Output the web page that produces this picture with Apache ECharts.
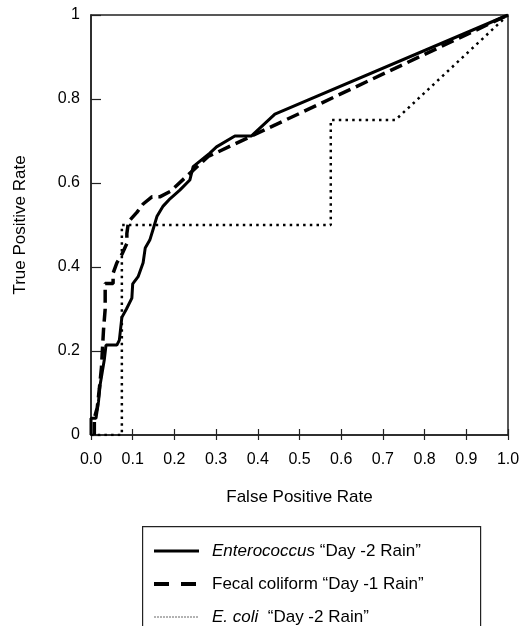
<!DOCTYPE html>
<html>
<head>
<meta charset="utf-8">
<script src="https://cdn.jsdelivr.net/npm/echarts@6/dist/echarts.min.js"></script>
<style>
html,body{margin:0;padding:0;background:#fff;}
#chart{width:524px;height:626px;}
</style>
</head>
<body>
<div id="chart"></div>
<script>
// ---- data (False Positive Rate, True Positive Rate) ----
var xTicks = ['0.0','0.1','0.2','0.3','0.4','0.5','0.6','0.7','0.8','0.9','1.0'];
var yTicks = ['0','0.2','0.4','0.6','0.8','1'];
var seriesNames = ['Enterococcus \u201cDay -2 Rain\u201d', 'Fecal coliform \u201cDay -1 Rain\u201d', 'E. coli  \u201cDay -2 Rain\u201d'];

var enterococcus = [
  [0,0],[0,0.04],[0.012,0.04],[0.018,0.08],[0.022,0.12],[0.027,0.15],[0.032,0.18],[0.036,0.214],
  [0.062,0.214],[0.068,0.226],[0.074,0.28],[0.085,0.30],[0.098,0.326],[0.10,0.36],[0.113,0.377],
  [0.125,0.41],[0.13,0.445],[0.141,0.464],[0.149,0.49],[0.158,0.52],[0.173,0.545],[0.19,0.563],
  [0.213,0.583],[0.237,0.607],[0.245,0.639],[0.285,0.671],[0.301,0.686],[0.345,0.712],
  [0.385,0.712],[0.441,0.764],[1,1]
];
var fecalColiform = [
  [0.008,0],[0.008,0.04],[0.015,0.065],[0.02,0.11],[0.025,0.16],[0.03,0.25],[0.034,0.30],
  [0.034,0.361],[0.053,0.361],[0.053,0.385],[0.062,0.41],[0.074,0.43],[0.086,0.456],[0.086,0.48],
  [0.09,0.508],[0.11,0.53],[0.125,0.55],[0.146,0.567],[0.165,0.567],[0.19,0.58],[0.237,0.623],
  [0.281,0.663],[1,1]
];
var eColi = [
  [0,0],[0.074,0],[0.074,0.5],[0.575,0.5],[0.575,0.75],[0.73,0.75],[1,1]
];

// ---- chart ----
var FONT = '"Liberation Sans", Arial, sans-serif';
var chart = echarts.init(document.getElementById('chart'), null, {renderer:'canvas'});
var hiddenSymbol = {opacity: 0, color: 'transparent', borderWidth: 0};
var option = {
  backgroundColor: '#fff',
  animation: false,
  textStyle: {fontFamily: FONT, color: '#000'},
  grid: {left: 91, right: 16, top: 15, bottom: 191, show: true, borderColor: '#222', borderWidth: 1.5, backgroundColor: 'transparent'},
  xAxis: [{
    type: 'value', min: 0, max: 1, interval: 0.1, position: 'bottom',
    name: 'False Positive Rate', nameLocation: 'middle', nameGap: 54,
    nameTextStyle: {fontSize: 17, fontFamily: FONT, color: '#000'},
    axisLine: {show: true, lineStyle: {color: '#222', width: 1.5}},
    axisTick: {show: true, inside: false, length: 5, lineStyle: {color: '#222', width: 1.2}},
    axisLabel: {fontSize: 16, fontFamily: FONT, color: '#000', margin: 17,
      formatter: function (v) { return xTicks[Math.round(v * 10)]; }},
    splitLine: {show: false}
  }, {
    type: 'value', min: 0, max: 1, interval: 0.1, position: 'bottom', offset: 0,
    axisLine: {show: false},
    axisTick: {show: true, inside: true, length: 6, lineStyle: {color: '#222', width: 1.2}},
    axisLabel: {show: false},
    splitLine: {show: false}
  }],
  yAxis: {
    type: 'value', min: 0, max: 1, interval: 0.2,
    name: 'True Positive Rate', nameLocation: 'middle', nameGap: 62, nameRotate: 90,
    nameTextStyle: {fontSize: 17, fontFamily: FONT, color: '#000'},
    axisLine: {show: true, lineStyle: {color: '#222', width: 1.5}},
    axisTick: {show: true, inside: true, length: 10, lineStyle: {color: '#222', width: 1.2}},
    axisLabel: {fontSize: 16, fontFamily: FONT, color: '#000', margin: 11,
      formatter: function (v) { return yTicks[Math.round(v * 5)]; }},
    splitLine: {show: false}
  },
  legend: {
    orient: 'vertical', left: 152, top: 541, height: 120, width: 330, padding: 0,
    itemWidth: 45, itemHeight: 14, itemGap: 13,
    textStyle: {fontSize: 17, fontFamily: FONT, color: '#000', padding: [0, 0, 0, 8], lineHeight: 20,
      rich: {i: {fontStyle: 'italic', fontSize: 17, fontFamily: FONT}, n: {fontSize: 17, fontFamily: FONT}}},
    formatter: function (name) {
      if (name.indexOf('Enterococcus') === 0) return '{i|Enterococcus}{n| \u201cDay -2 Rain\u201d}';
      if (name.indexOf('E. coli') === 0) return '{i|E. coli}{n|  \u201cDay -2 Rain\u201d}';
      return '{n|' + name + '}';
    },
    data: [
      {name: seriesNames[0], itemStyle: hiddenSymbol, lineStyle: {color: '#000', width: 3, type: 'solid'}},
      {name: seriesNames[1], itemStyle: hiddenSymbol, lineStyle: {color: '#000', width: 4, type: [15, 12]}},
      {name: seriesNames[2], itemStyle: hiddenSymbol, lineStyle: {color: '#666', width: 1, type: [2, 1]}}
    ]
  },
  graphic: [{
    type: 'rect', left: 142, top: 526, silent: true, z: -1,
    shape: {width: 338, height: 130},
    style: {fill: '#fff', stroke: '#222', lineWidth: 1.2}
  }],
  series: [
    {name: seriesNames[0], type: 'line', data: enterococcus, showSymbol: false, symbol: 'none',
      lineStyle: {color: '#000', width: 3, type: 'solid'}, itemStyle: {color: '#000'}, z: 3},
    {name: seriesNames[1], type: 'line', data: fecalColiform, showSymbol: false, symbol: 'none',
      lineStyle: {color: '#000', width: 3.5, type: [13, 6]}, itemStyle: {color: '#000'}, z: 2},
    {name: seriesNames[2], type: 'line', data: eColi, showSymbol: false, symbol: 'none',
      lineStyle: {color: '#000', width: 2.5, type: [2.5, 4.2]}, itemStyle: {color: '#000'}, z: 1}
  ]
};
chart.setOption(option);
</script>
</body>
</html>
